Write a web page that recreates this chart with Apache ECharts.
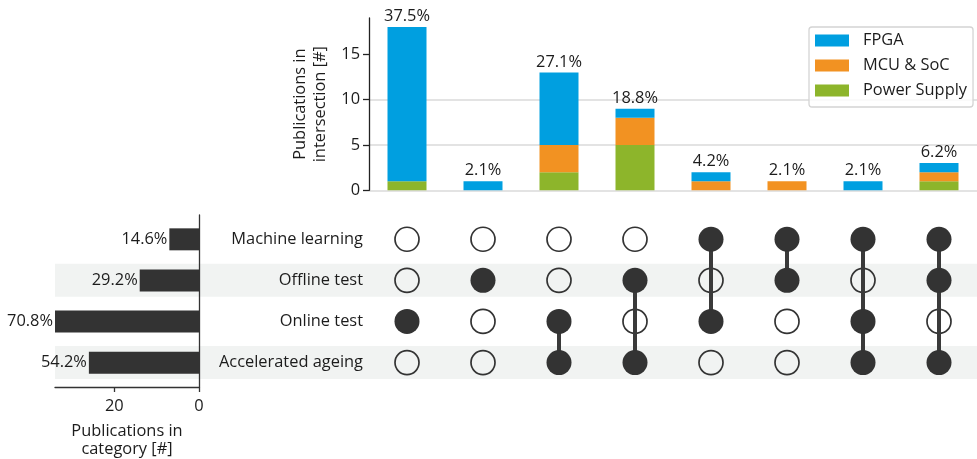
<!DOCTYPE html>
<html><head><meta charset="utf-8">
<script src="https://cdn.jsdelivr.net/npm/echarts@6/dist/echarts.min.js"></script>
<style>html,body{margin:0;padding:0;background:#fff}#c{width:977px;height:459px}</style>
</head><body><div id="c"></div>
<script>
// ---- data ----
const intersections = ['A','B','C','D','E','F','G','H'];
const categories = ['Machine learning','Offline test','Online test','Accelerated ageing'];
const categoryCounts = [7, 14, 34, 26];
const categoryPercent = ['14.6%','29.2%','70.8%','54.2%'];
const fpga  = [17, 1, 8, 1, 1, 0, 1, 1];
const mcu   = [0, 0, 3, 3, 1, 1, 0, 1];
const power = [1, 0, 2, 5, 0, 0, 0, 1];
const intersectionPercent = ['37.5%','2.1%','27.1%','18.8%','4.2%','2.1%','2.1%','6.2%'];
const members = [[2],[1],[2,3],[1,3],[0,2],[0,1],[0,2,3],[0,1,3]];
const shadedRows = [0, 1, 0, 1];
const topTicks = [0, 5, 10, 15];
const leftTicks = [0, 20];

// ---- derived ----
const totals = intersections.map((_, i) => fpga[i] + mcu[i] + power[i]);
const filled = [], empty = [], links = [];
intersections.forEach((_, c) => {
  categories.forEach((_, r) => {
    (members[c].includes(r) ? filled : empty).push([c, r]);
  });
  if (members[c].length > 1) links.push([c, Math.min(...members[c]), Math.max(...members[c])]);
});

const FONT = 'Open Sans';
const FS = 16.4;
const TXT = '#1c1c1c';
const GRID_L = 369, GRID_W = 613;
const MAT_TOP = 218.7, MAT_H = 164.4;

const chart = echarts.init(document.getElementById('c'), null, {renderer: 'canvas'});
chart.setOption({
  animation: false,
  textStyle: {fontFamily: FONT, fontSize: FS, color: TXT},
  legend: {
    data: ['FPGA', 'MCU & SoC', 'Power Supply'],
    orient: 'vertical', left: 809, top: 27,
    icon: 'rect', itemWidth: 34, itemHeight: 12, itemGap: 6,
    padding: [4, 6, 7, 6],
    borderColor: '#d4d4d4', borderWidth: 1.3, borderRadius: 3,
    backgroundColor: 'rgba(255,255,255,0.85)',
    textStyle: {fontFamily: FONT, fontSize: FS, color: TXT, lineHeight: 19, padding: [0, 0, 0, 9]}
  },
  grid: [
    {left: GRID_L, top: 18, width: GRID_W, height: 172.3},
    {left: GRID_L, top: MAT_TOP, width: GRID_W, height: MAT_H},
    {left: 55, top: 215, width: 144, height: 172},
    {left: 55, top: MAT_TOP, width: 927, height: MAT_H}
  ],
  xAxis: [
    {gridIndex: 0, type: 'category', data: intersections, axisLine: {show: false}, axisTick: {show: false}, axisLabel: {show: false}},
    {gridIndex: 1, type: 'category', data: intersections, show: false},
    {gridIndex: 2, type: 'value', inverse: true, min: 0, max: 34, interval: 20, z: 3,
      axisLine: {show: true, onZero: false, lineStyle: {color: '#333', width: 1.3}},
      axisTick: {show: true, length: 5, customValues: leftTicks, lineStyle: {color: '#333', width: 1.3}},
      axisLabel: {customValues: leftTicks, margin: 11, fontSize: FS, color: TXT, fontFamily: FONT},
      splitLine: {show: false},
      name: 'Publications in\ncategory [#]', nameLocation: 'middle', nameGap: 35,
      nameTextStyle: {fontSize: FS, lineHeight: 18, color: TXT, fontFamily: FONT}},
    {gridIndex: 3, type: 'value', min: 0, max: 1, show: false}
  ],
  yAxis: [
    {gridIndex: 0, type: 'value', min: 0, max: 19, interval: 5,
      axisLine: {show: true, lineStyle: {color: '#222', width: 1.3}},
      axisTick: {show: true, length: 6, customValues: topTicks, lineStyle: {color: '#222', width: 1.3}},
      axisLabel: {customValues: topTicks, margin: 9, fontSize: FS, color: TXT, fontFamily: FONT},
      splitLine: {show: true, showMaxLine: false, lineStyle: {color: '#dadada', width: 1.5}},
      name: 'Publications in\nintersection [#]', nameLocation: 'middle', nameGap: 28,
      nameTextStyle: {fontSize: FS, lineHeight: 20, color: TXT, fontFamily: FONT}},
    {gridIndex: 1, type: 'category', data: categories, inverse: true, z: 3,
      axisLine: {show: false}, axisTick: {show: false},
      axisLabel: {margin: 6, fontSize: FS, color: TXT, fontFamily: FONT}},
    {gridIndex: 2, type: 'value', inverse: true, min: -0.592, max: 3.592, position: 'right', z: 3,
      axisLine: {show: true, onZero: false, lineStyle: {color: '#333', width: 1.3}},
      axisTick: {show: false}, axisLabel: {show: false}, splitLine: {show: false}},
    {gridIndex: 3, type: 'category', data: categories, inverse: true, show: false}
  ],
  series: [
    // row shading
    {type: 'bar', xAxisIndex: 3, yAxisIndex: 3, data: shadedRows, barWidth: 33, silent: true, z: 1,
      itemStyle: {color: '#f1f3f2'}},
    // stacked intersection bars
    {name: 'Power Supply', type: 'bar', stack: 's', data: power, barWidth: 39, z: 4, itemStyle: {color: '#8db52b'}},
    {name: 'MCU & SoC', type: 'bar', stack: 's', data: mcu, barWidth: 39, z: 4, itemStyle: {color: '#f29222'}},
    {name: 'FPGA', type: 'bar', stack: 's', data: fpga, barWidth: 39, z: 4, itemStyle: {color: '#009fe0'}},
    // totals labels
    {type: 'scatter', data: totals, symbol: 'rect', symbolSize: 1, silent: true, z: 5,
      itemStyle: {color: 'rgba(0,0,0,0)', opacity: 1},
      label: {show: true, position: 'top', distance: 2, fontSize: FS, color: TXT, opacity: 1, fontFamily: FONT,
        formatter: p => intersectionPercent[p.dataIndex]}},
    // matrix links
    {type: 'custom', xAxisIndex: 1, yAxisIndex: 1, data: links, z: 5, silent: true,
      encode: {x: 0, y: [1, 2]},
      renderItem: (params, api) => {
        const a = api.coord([api.value(0), api.value(1)]);
        const b = api.coord([api.value(0), api.value(2)]);
        return {type: 'line', shape: {x1: a[0], y1: a[1], x2: b[0], y2: b[1]},
          style: {stroke: '#3a3a3a', lineWidth: 4}};
      }},
    // empty dots
    {type: 'scatter', xAxisIndex: 1, yAxisIndex: 1, data: empty, symbol: 'circle', symbolSize: 24, z: 4, silent: true,
      itemStyle: {color: 'rgba(0,0,0,0)', borderColor: '#333', borderWidth: 1.7, opacity: 1}},
    // filled dots
    {type: 'scatter', xAxisIndex: 1, yAxisIndex: 1, data: filled, symbol: 'circle', symbolSize: 25, z: 6, silent: true,
      itemStyle: {color: '#333', opacity: 1}},
    // category bars (left)
    {type: 'custom', xAxisIndex: 2, yAxisIndex: 2, z: 4, silent: true,
      data: categoryCounts.map((v, i) => [v, i]),
      encode: {x: 0, y: 1},
      renderItem: (params, api) => {
        const v = api.value(0), r = api.value(1);
        const p0 = api.coord([0, r]);
        const p1 = api.coord([v, r]);
        const h = api.size([0, 0.535])[1];
        const x0 = Math.min(p0[0], p1[0]);
        return {type: 'group', children: [
          {type: 'rect', shape: {x: x0, y: p0[1] - h / 2, width: Math.abs(p1[0] - p0[0]), height: h},
            style: {fill: '#333'}},
          {type: 'text', x: x0 - 2, y: p0[1],
            style: {text: categoryPercent[params.dataIndex], align: 'right', verticalAlign: 'middle',
              fontSize: FS, fontFamily: FONT, fill: TXT}}
        ]};
      }}
  ]
});
</script>
</body></html>
